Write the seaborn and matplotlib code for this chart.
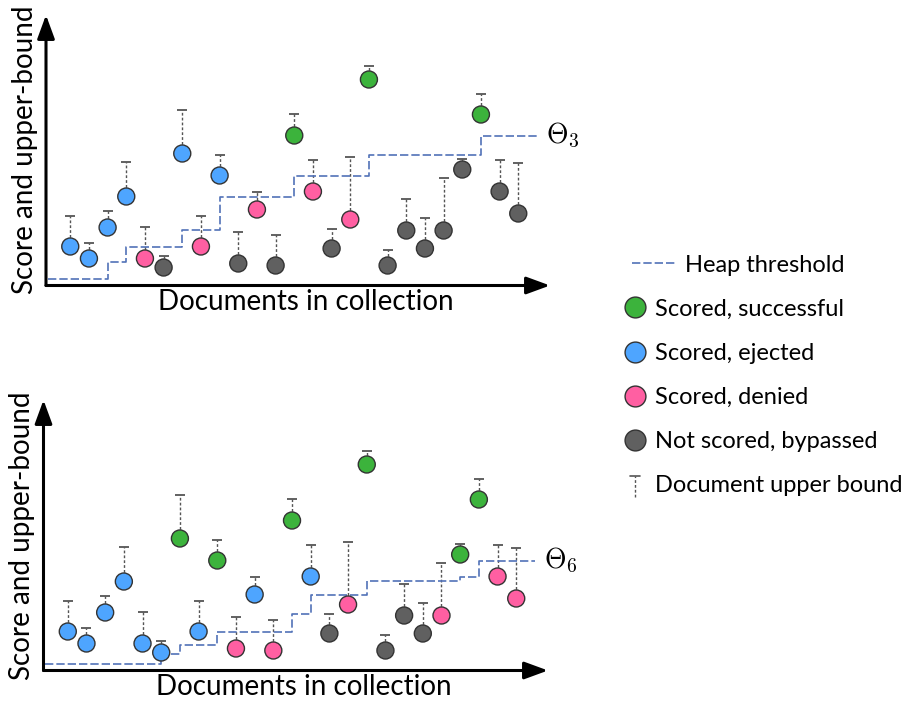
import matplotlib

matplotlib.use("Agg")
import matplotlib.pyplot as plt
import pandas as pd
import seaborn as sns
from matplotlib.legend_handler import HandlerBase
from matplotlib.lines import Line2D

sns.set_theme(style="white")
plt.rcParams["font.family"] = ["Lato", "DejaVu Sans"]
plt.rcParams["mathtext.fontset"] = "cm"
plt.rcParams["text.color"] = "black"

# document index along the collection
docs = list(range(1, 26))
# score of each document and its upper bound (same collection in both panels)
scores = [39, 27, 58, 89, 27, 18, 132, 39, 110, 22, 76, 20, 150, 94, 37,
          66, 206, 20, 55, 37, 55, 116, 171, 94, 72]
bounds = [70, 43, 75, 124, 59, 30, 176, 70, 131, 54, 94, 51, 172, 126, 57,
          129, 220, 36, 87, 68, 108, 127, 192, 126, 123]

status_top = ["ejected", "ejected", "ejected", "ejected", "denied", "bypassed",
              "ejected", "denied", "ejected", "bypassed", "denied", "bypassed",
              "successful", "denied", "bypassed", "denied", "successful",
              "bypassed", "bypassed", "bypassed", "bypassed", "bypassed",
              "successful", "bypassed", "bypassed"]
status_bottom = ["ejected", "ejected", "ejected", "ejected", "ejected", "ejected",
                 "successful", "ejected", "successful", "denied", "ejected",
                 "denied", "successful", "ejected", "bypassed", "denied",
                 "successful", "bypassed", "bypassed", "bypassed", "denied",
                 "successful", "successful", "denied", "denied"]

# heap threshold (step function, value holds until next step)
thr_top_x = [-0.2, 3, 4, 7, 9, 13, 17, 23, 26]
thr_top_y = [7, 24, 39, 56, 89, 110, 131, 150, 150]
thr_bottom_x = [-0.2, 6, 7, 9, 13, 14, 17, 22, 23, 26]
thr_bottom_y = [7, 17, 26, 39, 57, 76, 90, 94, 110, 110]

palette = {
    "successful": "#3cb33c",
    "ejected": "#4ea5ff",
    "denied": "#ff5fa2",
    "bypassed": "#606060",
}
labels = {
    "successful": "Scored, successful",
    "ejected": "Scored, ejected",
    "denied": "Scored, denied",
    "bypassed": "Not scored, bypassed",
}
THR_COLOR = "#5272b8"
BOUND_COLOR = "#555555"
EDGE = "#333333"


class BoundHandler(HandlerBase):
    def create_artists(self, legend, orig_handle, xdescent, ydescent,
                       width, height, fontsize, trans):
        cx = width / 2 - xdescent
        top = height * 1.0 - ydescent
        bottom = -ydescent - height * 0.3
        stem = Line2D([cx, cx], [bottom, top], color=BOUND_COLOR, lw=1,
                      ls=(0, (2, 1.5)))
        cap = Line2D([cx - 3.5, cx + 3.5], [top, top], color=BOUND_COLOR, lw=1.2)
        stem.set_transform(trans)
        cap.set_transform(trans)
        return [stem, cap]


def draw_panel(ax, status, thr_x, thr_y, theta):
    df = pd.DataFrame({"doc": docs, "score": scores, "bound": bounds,
                       "status": status})
    ax.vlines(df["doc"], df["score"], df["bound"], colors=BOUND_COLOR,
              linestyles=(0, (2, 1.5)), linewidth=1, zorder=1)
    ax.scatter(df["doc"], df["bound"], marker="_", s=48, color=BOUND_COLOR,
               linewidths=1.3, zorder=1)
    ax.plot(thr_x, thr_y, drawstyle="steps-post", color=THR_COLOR, lw=1.2,
            dashes=(5, 1.8), zorder=2)
    sns.scatterplot(data=df, x="doc", y="score", hue="status", palette=palette,
                    s=150, edgecolor=EDGE, linewidth=1, legend=False,
                    zorder=3, ax=ax)
    ax.text(thr_x[-1] + 0.5, thr_y[-1], theta, fontsize=20, va="center",
            ha="left", color="black")

    ax.set_xlim(-0.3, 26.7)
    ax.set_ylim(0, 270.5)
    ax.set_xticks([])
    ax.set_yticks([])
    for sp in ax.spines.values():
        sp.set_visible(False)
    arrow = dict(arrowstyle="-|>,head_length=0.6,head_width=0.22",
                 mutation_scale=24, lw=2.2, color="black",
                 shrinkA=0, shrinkB=0)
    ax.annotate("", xy=(1, 0), xytext=(0, 0), xycoords="axes fraction",
                arrowprops=arrow, annotation_clip=False)
    ax.annotate("", xy=(0, 1), xytext=(0, 0), xycoords="axes fraction",
                arrowprops=arrow, annotation_clip=False)
    ax.set_xlabel("Documents in collection", fontsize=20, color="black")
    ax.xaxis.set_label_coords(0.515, -0.012, transform=ax.transAxes)
    ax.xaxis.label.set_va("top")
    ax.set_ylabel("Score and upper-bound", fontsize=20, labelpad=6,
                  color="black")


fig = plt.figure(figsize=(9.08, 7.04), dpi=100)
ax_top = fig.add_axes([46 / 908, 1 - 285.5 / 704, 504 / 908, 270.5 / 704])
ax_bottom = fig.add_axes([43.5 / 908, 1 - 670.5 / 704, 504.5 / 908, 270.5 / 704])

draw_panel(ax_top, status_top, thr_top_x, thr_top_y, r"$\Theta_3$")
draw_panel(ax_bottom, status_bottom, thr_bottom_x, thr_bottom_y, r"$\Theta_6$")

thr_handle = Line2D([], [], color=THR_COLOR, lw=1.2, dashes=(5, 1.8))
fig.legend([thr_handle], ["Heap threshold"], loc="center left",
           bbox_to_anchor=(632 / 908, 1 - 265 / 704), frameon=False,
           fontsize=17, handlelength=1.82, handletextpad=0.42,
           borderpad=0, borderaxespad=0)

order = ["successful", "ejected", "denied", "bypassed"]
handles = [Line2D([], [], ls="none", marker="o", markersize=15,
                  markerfacecolor=palette[k], markeredgecolor=EDGE,
                  markeredgewidth=1) for k in order]
handles.append(Line2D([], []))
names = [labels[k] for k in order] + ["Document upper bound"]
fig.legend(handles, names, loc="center left",
           bbox_to_anchor=(623 / 908, 1 - 397.5 / 704), frameon=False,
           fontsize=17, handlelength=1.0, handletextpad=0.35,
           labelspacing=0.98, borderpad=0, borderaxespad=0,
           handler_map={handles[-1]: BoundHandler()})

fig.savefig("out.png", dpi=100)
